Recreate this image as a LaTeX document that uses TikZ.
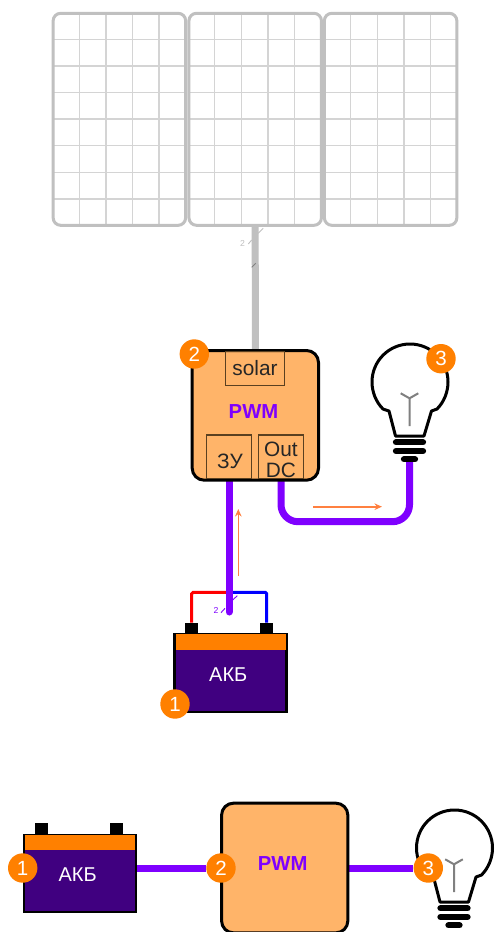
\documentclass[tikz,border=0pt]{standalone}
\usepackage{fontspec}
\setmainfont{Liberation Sans}
\usetikzlibrary{arrows.meta,backgrounds}
\def\px{0.75pt}
\definecolor{panelgrey}{HTML}{C0C0C0}
\definecolor{gridgrey}{HTML}{D4D4D4}
\definecolor{wirepurple}{HTML}{7F00FF}
\definecolor{ctrlfill}{HTML}{FFB469}
\definecolor{badgeorange}{HTML}{FF8000}
\definecolor{flow}{HTML}{FF8040}
\definecolor{batfill}{HTML}{400080}
\definecolor{portline}{HTML}{5A4020}
\tikzset{
  x=\px,y=-\px,
  sized/.style 2 args={inner sep=0pt,outer sep=0pt,minimum width=#1*\px,minimum height=#2*\px},
  panel/.style={sized={132.5}{212},draw=panelgrey,line width=3*\px,rounded corners=7.5*\px},
  gridline/.style={draw=gridgrey,line width=1.1*\px},
  controller/.style={sized={126.3}{129.7},draw=black,fill=ctrlfill,line width=3*\px,rounded corners=12*\px},
  port/.style={draw=portline,line width=1.3*\px,inner sep=0pt,outer sep=0pt},
  porttext/.style={inner sep=0pt,align=center,text=black!85,font=\fontsize{15.6}{15.8}\selectfont},
  pwmtext/.style={text=wirepurple,inner sep=0pt,font=\fontsize{15.2}{17}\selectfont\bfseries},
  badge/.style={circle,fill=badgeorange,text=white,minimum size=29.4*\px,inner sep=0pt,font=\fontsize{15.4}{17}\selectfont},
  batbody/.style={sized={112}{77.5},draw=black,fill=batfill,line width=2.4*\px},
  batband/.style={sized={110}{15.5},fill=badgeorange},
  terminal/.style={sized={13.4}{11.5},fill=black},
  battext/.style={text=white,inner sep=0pt,font=\fontsize{15}{17}\selectfont},
  wire/.style={draw=wirepurple,line width=7*\px},
  flowarrow/.style={draw=flow,line width=1.6*\px,-{Stealth[length=7.5*\px,width=6.5*\px]}},
  tick/.style={line width=0.9*\px},
  smalltwo/.style={inner sep=0pt,font=\fontsize{6.5}{7}\selectfont},
  pics/bulb/.style={code={
    \draw[fill=white,line width=3*\px,line join=round]
      (395.5,436) -- (389,411) -- (383,409)
      .. controls (376,402) and (372,392) .. (372,382)
      .. controls (372,361) and (389,344) .. (410,344)
      .. controls (431,344) and (448,361) .. (448,382)
      .. controls (448,392) and (444,402) .. (437,409)
      -- (431.5,411) -- (424,436) -- cycle;
    \draw[line width=2*\px,draw=black!50] (409.5,426) -- (409.5,398.3) -- (400.7,393.3);
    \draw[line width=2*\px,draw=black!50] (409.5,398.3) -- (418.3,393.3);
    \draw[line width=6.3*\px,line cap=round] (396,442.3) -- (423,442.3);
    \draw[line width=6.3*\px,line cap=round] (396,451) -- (423,451);
    \draw[line width=6.3*\px,line cap=round] (404,459.3) -- (415,459.3);
    \coordinate (-base) at (409.5,462);
  }}
}
\begin{document}
\begin{tikzpicture}
\useasboundingbox (0,0) rectangle (494,932);

% solar panels
\foreach \xa in {79.3,106,132.3,159,214.3,241.7,268,294.7,350.7,377.7,404,430.7}
  \draw[gridline] (\xa,14) -- (\xa,225);
\foreach \ya in {39.3,66,92.7,119,145.7,172.3,199}{
  \draw[gridline] (54,\ya) -- (185,\ya);
  \draw[gridline] (189.5,\ya) -- (321,\ya);
  \draw[gridline] (325,\ya) -- (456,\ya);
}
\node[panel] (p1) at (119.4,119.3) {};
\node[panel] (p2) at (255.2,119.3) {};
\node[panel] (p3) at (390.6,119.3) {};

% top controller
\node[controller] (ctrl) at (255.35,415.35) {};
\node[port,minimum width=58.6*\px,minimum height=34.2*\px] (solar) at (255,368.6) {};
\node[port,minimum width=44.6*\px,minimum height=43.7*\px] (zu) at (229,456.85) {};
\node[port,minimum width=44.6*\px,minimum height=43.7*\px] (out) at (281,456.85) {};
\node[porttext] (solart) at (255,368) {solar};
\node[porttext] (zut) at (230,461) {ЗУ};
\node[porttext] (outt) at (281,459.5) {Out\\DC};
\node[pwmtext] (pwm) at (253.5,412) {PWM};

% top battery
\node[batbody] (bat) at (230.6,673) {};
\node[batband] (band) at (230.6,642) {};
\node[terminal] (t1) at (191.7,628.3) {};
\node[terminal] (t2) at (266.7,628.3) {};
\node[battext] (akb) at (228.3,675) {АКБ};

% top bulb
\pic (lamp) at (0,0) {bulb};

% bottom row
\node[batbody] (batb) at (79.7,873.5) {};
\node[batband] (bandb) at (79.7,842.7) {};
\node[terminal] (t3) at (41.3,828.3) {};
\node[terminal] (t4) at (116.3,828.3) {};
\node[battext] (akbb) at (77.7,875) {АКБ};
\node[controller] (ctrlb) at (284.7,868) {};
\node[pwmtext] (pwmb) at (282.7,864) {PWM};
\pic (lampb) at (44.5,466) {bulb};

% numbered badges
\node[badge] (b1) at (175,704) {1};
\node[badge] (b2) at (194.3,354) {2};
\node[badge] (b3) at (441,358.7) {3};
\node[badge] (c1) at (22.7,868) {1};
\node[badge] (c2) at (221,868) {2};
\node[badge] (c3) at (428.3,868) {3};

% connectors behind the shapes
\coordinate (junction) at (229,592.3);
\coordinate (tap) at (229,612);
\coordinate (bend) at (345,521.7);
\begin{scope}[on background layer]
  \fill[white] (0,0) rectangle (494,932);
  \draw[draw=panelgrey,line width=7*\px] (p2.south) -- (ctrl.north);
  \draw[wire,rounded corners=17*\px] (out.south) |- (bend) -| (lamp-base);
  \draw[draw=red,line width=3*\px,rounded corners=1.5*\px] (t1.north) |- (junction);
  \draw[draw=blue,line width=3*\px,rounded corners=1.5*\px] (t2.north) |- (junction);
  \draw[wire,line cap=round] (zu.south) -- (tap);
  \draw[wire] (c1) -- (c2);
  \draw[wire] (c2) -- (c3);
\end{scope}

% flow arrows
\coordinate (fa1) at (313.3,506.7);
\coordinate (fa2) at (382,506.7);
\coordinate (fa3) at (238.3,576);
\coordinate (fa4) at (238.3,509);
\draw[flowarrow] (fa1) -- (fa2);
\draw[flowarrow] (fa3) -- (fa4);

% bundle marks
\coordinate (g1) at (248.3,244);
\coordinate (g2) at (251.7,240);
\coordinate (g3) at (258.3,233.3);
\coordinate (g4) at (263.3,228.3);
\coordinate (g5) at (251.7,267.3);
\coordinate (g6) at (255.7,263.3);
\draw[tick,draw=panelgrey] (g1) -- (g2);
\draw[tick,draw=panelgrey] (g3) -- (g4);
\draw[tick,draw=black!50] (g5) -- (g6);
\node[smalltwo,text=panelgrey] (n2g) at (242.5,243) {2};
\coordinate (h1) at (221,612.7);
\coordinate (h2) at (225,608.3);
\coordinate (h3) at (232.7,600);
\coordinate (h4) at (237.3,595.7);
\draw[tick,draw=wirepurple] (h1) -- (h2);
\draw[tick,draw=wirepurple] (h3) -- (h4);
\node[smalltwo,text=wirepurple] (n2p) at (216,610.7) {2};
\end{tikzpicture}
\end{document}
